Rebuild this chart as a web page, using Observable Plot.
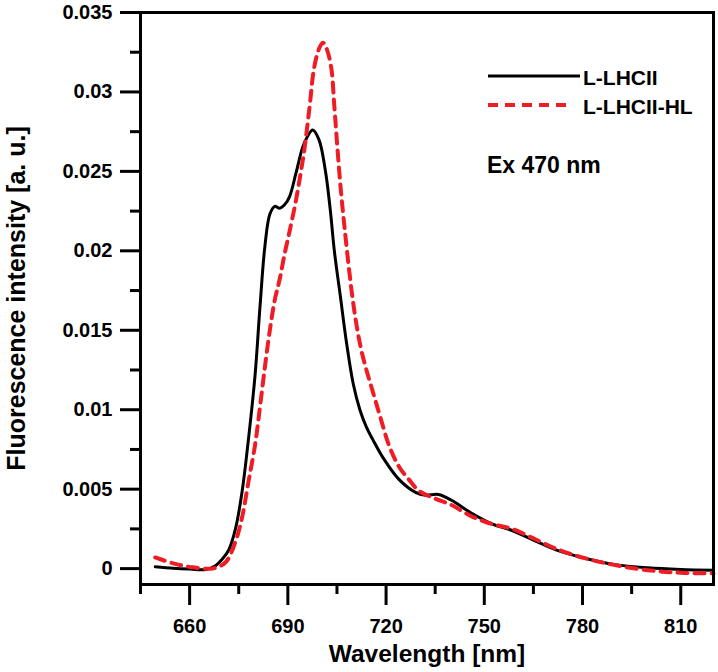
<!DOCTYPE html>
<html><head><meta charset="utf-8">
<script src="https://cdn.jsdelivr.net/npm/d3@7"></script>
<script src="https://cdn.jsdelivr.net/npm/@observablehq/plot@0.6"></script>
<style>
body{margin:0;background:#fff;}
#wrap{position:relative;width:718px;height:672px;}
svg text{font-family:"Liberation Sans",Arial,sans-serif;font-weight:bold;}
g[aria-label="x-axis label"]{font-size:24.5px;}
g[aria-label="y-axis label"]{font-size:25px;}
</style></head><body><div id="wrap"></div>
<script>
// Series: L-LHCII (black, solid)
const wavelengthLHCII = [649.5,655,660,665,668,670,672,674,676,678,680,681.5,683,684.5,686,687.5,689,690.5,692.5,694.5,696,697.6,699.5,701.5,703,704.2,706,708,710,712,714,716,719,724,729,732,736,740,746,752.5,758.5,765,773,781,790,800,810,820];
const intensityLHCII = [0.00012,0.00002,-0.00003,-0.00005,0.0002,0.0006,0.0012,0.0025,0.0048,0.0082,0.0122,0.0165,0.0203,0.0223,0.0228,0.02268,0.0229,0.0234,0.0249,0.0265,0.0272,0.0276,0.0270,0.0250,0.0225,0.0200,0.0172,0.0141,0.0116,0.0100,0.0089,0.0081,0.0070,0.0056,0.0048,0.00462,0.00467,0.0043,0.0035,0.0028,0.0024,0.0018,0.0011,0.00064,0.00025,0.00005,-0.00005,-0.0001];
// Series: L-LHCII-HL (red, dashed)
const wavelengthHL = [649.5,655,661,667,671,674,676,678,680,681.5,683,684.5,686,687.5,689,690.5,692.5,694,695,696.6,698.1,699.7,700.7,701.7,703.2,704.2,705.2,706.2,707.3,709.4,711,712.5,714,716,718,721,724,727,730,735,740,746,752.5,758.5,765,773,781,790,800,810,820];
const intensityHL = [0.0007,0.00033,0.00008,0.00001,0.0004,0.0017,0.0032,0.0055,0.0078,0.0102,0.0127,0.0150,0.0169,0.0182,0.0198,0.0212,0.0232,0.0250,0.0263,0.0290,0.0316,0.0328,0.0331,0.0328,0.0316,0.0291,0.0263,0.0238,0.0215,0.0176,0.0153,0.0137,0.0125,0.0111,0.0097,0.0077,0.0064,0.0056,0.0049,0.0044,0.0040,0.0033,0.0028,0.0025,0.0019,0.00116,0.00064,0.00022,-0.0001,-0.00026,-0.0003];

const seriesNames = ["L-LHCII", "L-LHCII-HL"];
const seriesColors = ["#000000", "#ee1c24"];
const annotationText = "Ex 470 nm";
const xLabel = "Wavelength [nm]";
const yLabel = "Fluorescence intensity [a. u.]";
const xMajorTicks = [660, 690, 720, 750, 780, 810];
const xMinorTicks = [645, 675, 705, 735, 765, 795];
const yMajorTicks = [0, 0.005, 0.01, 0.015, 0.02, 0.025, 0.03, 0.035];
const yMinorTicks = [0.0025, 0.0075, 0.0125, 0.0175, 0.0225, 0.0275, 0.0325];

const dataLHCII = wavelengthLHCII.map((w, i) => ({w, v: intensityLHCII[i]}));
const dataHL = wavelengthHL.map((w, i) => ({w, v: intensityHL[i]}));

function legend(index, scales, values, dim) {
  const right = dim.width - dim.marginRight;
  const g = d3.create("svg:g").attr("text-anchor", "start");
  const x0 = right - 225, x1 = right - 133, xt = right - 130;
  g.append("line").attr("x1", x0).attr("x2", x1).attr("y1", 76).attr("y2", 76)
    .attr("stroke", seriesColors[0]).attr("stroke-width", 3);
  g.append("text").attr("x", xt).attr("y", 84.5).attr("font-size", 21).text(seriesNames[0]);
  g.append("line").attr("x1", x0).attr("x2", right - 141).attr("y1", 105).attr("y2", 105)
    .attr("stroke", seriesColors[1]).attr("stroke-width", 4).attr("stroke-dasharray", "10,7");
  g.append("text").attr("x", xt).attr("y", 113.5).attr("font-size", 21).text(seriesNames[1]);
  g.append("text").attr("x", right - 226).attr("y", 173).attr("font-size", 23).text(annotationText);
  return g.node();
}

const chart = Plot.plot({
  width: 718, height: 672,
  marginLeft: 140, marginRight: 5, marginTop: 12, marginBottom: 88,
  x: {domain: [645, 820]},
  y: {domain: [-0.001, 0.035]},
  style: {background: "white", color: "black", fontFamily: "Liberation Sans, Arial, sans-serif", fontWeight: "bold"},
  marks: [
    Plot.axisX(xMinorTicks, {tickSize: 10, tickFormat: () => "", strokeWidth: 3, label: null}),
    Plot.axisX(xMajorTicks, {tickSize: 21, tickPadding: 13, strokeWidth: 3, fontSize: 20,
      label: xLabel, labelAnchor: "center", labelOffset: 77, labelArrow: "none"}),
    Plot.axisY(yMinorTicks, {tickSize: 10, tickFormat: () => "", strokeWidth: 3, label: null}),
    Plot.axisY(yMajorTicks, {tickSize: 20, tickPadding: 8, strokeWidth: 3, fontSize: 20,
      tickFormat: d => String(+d.toFixed(3)),
      label: yLabel, labelAnchor: "center", labelOffset: 133, labelArrow: "none"}),
    Plot.line(dataLHCII, {x: "w", y: "v", stroke: seriesColors[0], strokeWidth: 3, curve: "catmull-rom"}),
    Plot.line(dataHL, {x: "w", y: "v", stroke: seriesColors[1], strokeWidth: 4, strokeDasharray: "10,7", curve: "catmull-rom"}),
    Plot.frame({stroke: "black", strokeWidth: 3}),
    legend
  ]
});
document.getElementById("wrap").appendChild(chart);
</script></body></html>
